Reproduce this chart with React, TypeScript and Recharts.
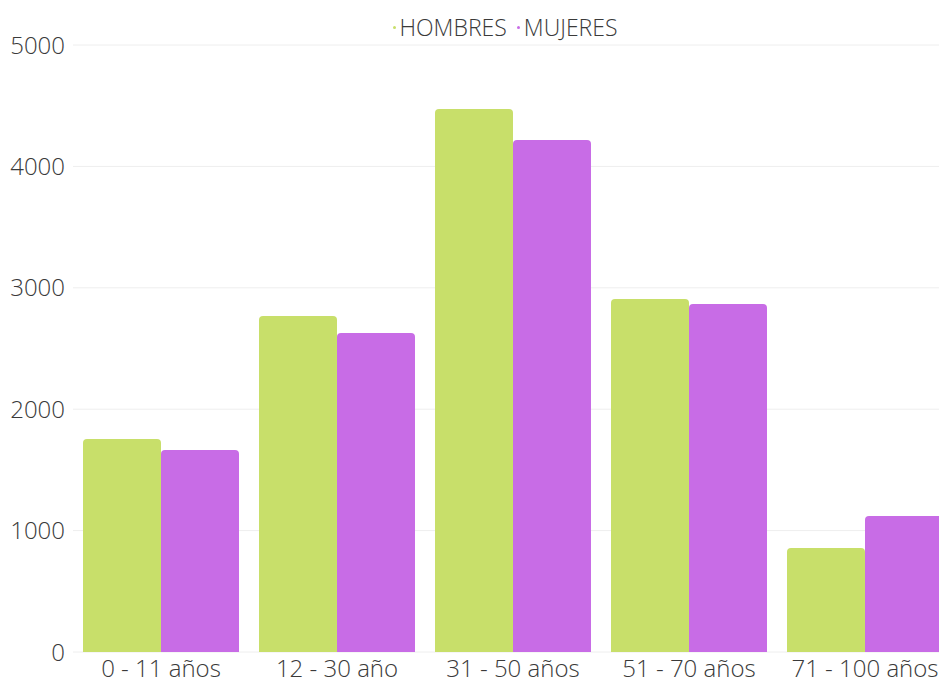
import { Bar, BarChart, CartesianGrid, Legend, XAxis, YAxis } from "recharts";

const ageGroups = ["0 - 11 años", "12 - 30 año", "31 - 50 años", "51 - 70 años", "71 - 100 años"];
const hombres = [1755, 2768, 4473, 2908, 857];
const mujeres = [1664, 2628, 4217, 2867, 1120];
const yTicks = [0, 1000, 2000, 3000, 4000, 5000];

const GREEN = "#c8df6a";
const PURPLE = "#c86ce6";
const FONT = "'Open Sans', 'Noto Sans', sans-serif";

const data = ageGroups.map((g, i) => ({ group: g, hombres: hombres[i], mujeres: mujeres[i] }));

function LegendRow() {
  const items = [
    { label: "HOMBRES", color: GREEN },
    { label: "MUJERES", color: PURPLE }
  ];
  return (
    <div
      style={{
        display: "flex",
        justifyContent: "center",
        gap: 10,
        fontFamily: FONT,
        fontSize: 23,
        fontWeight: 300,
        color: "#3a3a3a",
        height: 30,
        lineHeight: "30px"
      }}
    >
      {items.map((it) => (
        <span key={it.label} style={{ display: "flex", alignItems: "center" }}>
          <span style={{ width: 3, height: 3, borderRadius: 2, background: it.color, marginRight: 4 }} />
          {it.label}
        </span>
      ))}
    </div>
  );
}

export default function App() {
  return (
    <div style={{ position: "absolute", left: 0, top: 0, width: 939, height: 690, overflow: "hidden", background: "#fff" }}>
      <BarChart
        width={960}
        height={690}
        data={data}
        margin={{ top: 15, right: 7, bottom: 0, left: 0 }}
        barCategoryGap={10}
        barGap={0}
      >
        <CartesianGrid vertical={false} stroke="#eeeeee" />
        <XAxis
          dataKey="group"
          axisLine={false}
          tickLine={false}
          height={38}
          interval={0}
          tick={{ fill: "#3a3a3a", fontSize: 24, fontWeight: 300, fontFamily: FONT }}
        />
        <YAxis
          domain={[0, 5000]}
          ticks={yTicks}
          width={73}
          axisLine={false}
          tickLine={false}
          tick={{ fill: "#3a3a3a", fontSize: 24, fontWeight: 300, fontFamily: FONT }}
        />
        <Legend verticalAlign="top" content={() => <LegendRow />} wrapperStyle={{ top: 12, left: 65, width: 880 }} />
        <Bar dataKey="hombres" name="HOMBRES" fill={GREEN} radius={[4, 4, 0, 0]} isAnimationActive={false} />
        <Bar dataKey="mujeres" name="MUJERES" fill={PURPLE} radius={[4, 4, 0, 0]} isAnimationActive={false} />
      </BarChart>
    </div>
  );
}
